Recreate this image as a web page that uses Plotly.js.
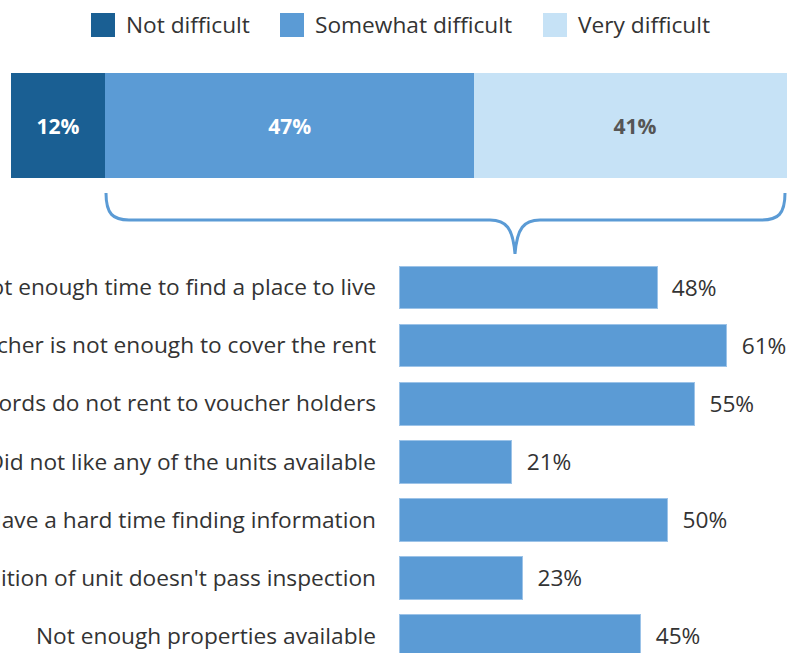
<!DOCTYPE html>
<html>
<head>
<meta charset="utf-8">
<script src="https://cdn.plot.ly/plotly-3.0.1.min.js"></script>
<style>html,body{margin:0;padding:0;background:#fff;overflow:hidden}#chart{width:787px;height:653px}</style>
</head>
<body>
<div id="chart"></div>
<script>
// ---- data ----
const levelNames = ["Not difficult", "Somewhat difficult", "Very difficult"];
const levelValues = [12, 47, 41];
const levelColors = ["#1a5f93", "#5b9bd5", "#c6e2f6"];
const levelTextColors = ["#ffffff", "#ffffff", "#555555"];

const reasons = [
  "Not enough time to find a place to live",
  "Voucher is not enough to cover the rent",
  "Landlords do not rent to voucher holders",
  "Did not like any of the units available",
  "Have a hard time finding information",
  "Condition of unit doesn't pass inspection",
  "Not enough properties available"
];
const reasonValues = [48, 61, 55, 21, 50, 23, 45];

// ---- layout helpers (pixels -> paper) ----
const W = 787, H = 653;
const px = x => x / W;
const py = y => 1 - y / H;
const FS = 22.7;

const traces = [];
levelNames.forEach((name, i) => {
  traces.push({
    type: "bar", orientation: "h",
    x: [levelValues[i]], y: ["all"],
    xaxis: "x2", yaxis: "y2",
    name: name,
    marker: {color: levelColors[i], line: {width: 0}},
    width: 1,
    text: [levelValues[i] + "%"],
    textposition: "inside", insidetextanchor: "middle",
    textfont: {family: "Open Sans", size: 21, color: levelTextColors[i], weight: 700},
    hoverinfo: "skip",
    showlegend: false
  });
});

traces.push({
  type: "bar", orientation: "h",
  x: reasonValues, y: reasons,
  xaxis: "x", yaxis: "y",
  marker: {color: "#5b9bd5", line: {width: 1, color: "#9cc3e8"}},
  width: 0.74,
  text: reasonValues.map(v => "\u00a0\u00a0" + v + "%"),
  textposition: "outside",
  cliponaxis: false,
  textfont: {family: "Open Sans", size: FS, color: "#333333"},
  hoverinfo: "skip",
  showlegend: false
});

// brace path
const pts = [
  ["M", 106, 193],
  ["C", 106, 214, 113, 220, 129, 220],
  ["L", 490, 220],
  ["C", 506, 220, 513, 228, 515, 254],
  ["C", 517, 228, 524, 220, 540, 220],
  ["L", 762, 220],
  ["C", 778, 220, 785, 214, 785, 193]
];
const bracePath = pts.map(p => {
  const cmd = p[0]; const c = p.slice(1); const out = [];
  for (let k = 0; k < c.length; k += 2) out.push(px(c[k]).toFixed(5) + "," + py(c[k+1]).toFixed(5));
  return cmd + out.join(" ");
}).join(" ");

const shapes = [{
  type: "path", xref: "paper", yref: "paper", path: bracePath,
  line: {color: "#5b9bd5", width: 3}
}];
const annotations = [];
// manual legend
const legendX = [91, 280, 543];
levelNames.forEach((name, i) => {
  shapes.push({type: "rect", xref: "paper", yref: "paper",
    x0: px(legendX[i]), x1: px(legendX[i] + 24), y0: py(37), y1: py(13),
    fillcolor: levelColors[i], line: {width: 0}});
  annotations.push({xref: "paper", yref: "paper", x: px(legendX[i] + 33), y: py(25),
    xanchor: "left", yanchor: "middle", showarrow: false, text: name,
    font: {family: "Open Sans", size: FS, color: "#333333"}});
});

const layout = {
  width: W, height: H,
  margin: {l: 0, r: 0, t: 0, b: 0},
  paper_bgcolor: "#ffffff", plot_bgcolor: "#ffffff",
  font: {family: "Open Sans", color: "#333333"},
  barmode: "stack",
  showlegend: false,
  xaxis: {domain: [px(399), 1], range: [0, 388 / 5.375], visible: false, fixedrange: true},
  yaxis: {domain: [0, py(258.5)], range: [6.3, -0.5], showgrid: false, zeroline: false,
    showline: false, ticks: "", ticklabelstandoff: 22,
    tickfont: {family: "Open Sans", size: FS, color: "#333333"}, automargin: false},
  xaxis2: {domain: [px(11), 1], range: [0, 776 / 7.85], visible: false, anchor: "y2"},
  yaxis2: {domain: [py(178), py(73)], range: [-0.5, 0.5], visible: false, anchor: "x2"},
  shapes: shapes,
  annotations: annotations
};

Plotly.newPlot("chart", traces, layout, {displayModeBar: false, staticPlot: true});
</script>
</body>
</html>
